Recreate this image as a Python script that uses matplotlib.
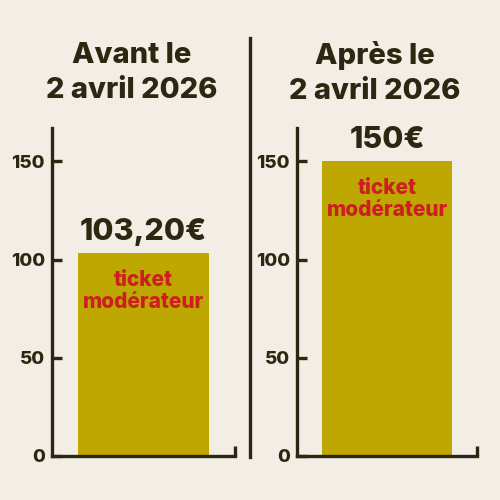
import matplotlib
matplotlib.use("Agg")
import matplotlib.pyplot as plt
from matplotlib.lines import Line2D

titles = ["Avant le\n2 avril 2026", "Après le\n2 avril 2026"]
values = [103.20, 150.0]
value_labels = ["103,20€", "150€"]
inner_label = "ticket\nmodérateur"
yticks = [0, 50, 100, 150]

BG = "#f2eee5"
DARK = "#2b2710"
BAR = "#bda700"
RED = "#cc1f1f"
FONT = ["Inter", "DejaVu Sans"]

plt.rcParams["font.family"] = FONT

fig = plt.figure(figsize=(5, 5), dpi=100, facecolor=BG)

axes_rects = [[0.104, 0.088, 0.366, 0.656], [0.594, 0.088, 0.360, 0.656]]
title_x = [0.264, 0.75]

for i, rect in enumerate(axes_rects):
    ax = fig.add_axes(rect)
    ax.set_facecolor(BG)
    ax.bar([0], [values[i]], width=0.72, color=BAR, zorder=2)
    ax.set_xlim(-0.5, 0.5)
    ax.set_ylim(0, 167)
    for s in ["top", "right"]:
        ax.spines[s].set_visible(False)
    for s in ["left", "bottom"]:
        ax.spines[s].set_linewidth(2.4)
        ax.spines[s].set_color(DARK)
        ax.spines[s].set_capstyle("projecting")
    ax.set_yticks(yticks)
    ax.set_yticklabels([str(t) for t in yticks])
    ax.tick_params(axis="y", direction="in", length=7, width=2.4, color=DARK,
                   labelsize=13.5, labelcolor=DARK, pad=5)
    for lab in ax.get_yticklabels():
        lab.set_fontweight(800)
    ax.set_xticks([0.5])
    ax.set_xticklabels([""])
    ax.tick_params(axis="x", direction="in", length=7, width=2.4, color=DARK)
    ax.annotate(value_labels[i], xy=(0, values[i]), xytext=(0, 5),
                textcoords="offset points", ha="center", va="bottom",
                fontsize=22, fontweight=800, color=DARK)
    ax.annotate(inner_label, xy=(0, values[i]), xytext=(0, -12),
                textcoords="offset points", ha="center", va="top",
                fontsize=15, fontweight=800, color=RED, linespacing=1.15)
    fig.text(title_x[i], 0.854, titles[i], ha="center", va="center",
             fontsize=21, fontweight=800, color=DARK, linespacing=1.35)

fig.add_artist(Line2D([0.5, 0.5], [0.086, 0.924], transform=fig.transFigure,
                      color=DARK, linewidth=2.4))

fig.savefig("out.png", dpi=100, facecolor=BG)
